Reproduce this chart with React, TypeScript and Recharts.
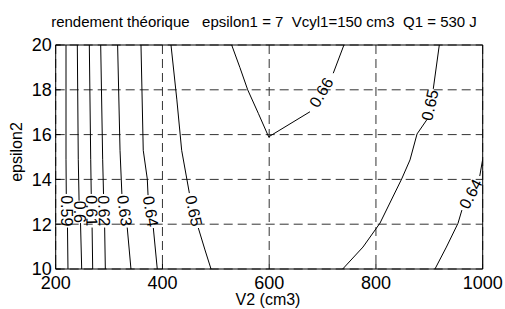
import React from 'react';
import { ScatterChart, Scatter, XAxis, YAxis, CartesianGrid } from 'recharts';

const xTicks = [200, 400, 600, 800, 1000];
const yTicks = [10, 12, 14, 16, 18, 20];

// contour polylines, [V2, epsilon2]
const c059a = [[219.3, 20], [219.3, 14.9], [219.8, 13.35]];
const c059b = [[222.1, 11.85], [223, 10]];
const c060a = [[240.5, 20], [242.3, 14.9], [243.8, 13.05]];
const c060b = [[246.5, 12.05], [248.7, 10]];
const c061a = [[263, 20], [265.6, 14.9], [266.6, 13.35]];
const c061b = [[268.2, 11.85], [269.3, 10]];
const c062a = [[284.3, 20], [288, 14.9], [289.6, 13.35]];
const c062b = [[291.7, 11.85], [293, 10]];
const c063a = [[316, 20], [320.5, 15.3], [324, 13.35]];
const c063b = [[334, 11.85], [341, 10]];
const c064a = [[359.8, 20], [364, 15.3], [371.6, 14.02], [373, 13.3]];
const c064b = [[382.9, 11.83], [390.3, 10]];
const c065La = [[416, 20], [427, 17.55], [436, 15.3], [450.4, 13.39]];
const c065Lb = [[467.2, 11.83], [479.7, 10.85], [491, 10]];
const c066a = [[529.7, 20], [545, 19], [559.7, 18], [579.6, 16.95], [599, 15.9], [676.4, 17.02]];
const c066b = [[720, 18.74], [740, 20]];
const c065Ra = [[918.7, 20], [907.4, 18.04]];
const c065Rb = [[895, 16.65], [877, 16.03], [863.8, 14.87], [848.2, 14.02], [807.6, 12.05], [775.7, 10.98], [737.7, 10]];
const c064Ra = [[1000, 14.9], [994.5, 14.15]];
const c064Rb = [[961, 12.63], [953.7, 12.04], [932, 10.98], [910.6, 10]];

const segments = [c059a, c059b, c060a, c060b, c061a, c061b, c062a, c062b, c063a, c063b, c064a, c064b,
  c065La, c065Lb, c066a, c066b, c065Ra, c065Rb, c064Ra, c064Rb];

// contour labels
const labelText = ['0.59', '0.6', '0.61', '0.62', '0.63', '0.64', '0.65', '0.66', '0.65', '0.64'];
const labelPos = [[221, 12.6], [245.2, 12.55], [267.4, 12.6], [290.6, 12.6], [329, 12.6], [378, 12.57],
  [458.5, 12.6], [697.6, 17.88], [901.2, 17.32], [977.5, 13.35]];
const labelAngle = [90, 90, 89, 88, 82, 81, 78, -59, -78, -62];

const labelData = labelPos.map((p, i) => ({ x: p[0], y: p[1], t: labelText[i], a: labelAngle[i] }));

const FONT = '"Liberation Sans", Arial, sans-serif';

const LabelShape = (props: any) => {
  const { cx, cy, payload } = props;
  return (
    <text x={cx} y={cy} transform={`rotate(${payload.a} ${cx} ${cy})`} textAnchor="middle"
      dominantBaseline="central" fontSize={16} fontFamily={FONT} fill="#000">{payload.t}</text>
  );
};

const Empty = () => <g />;

export default function App() {
  return (
    <div style={{ position: 'absolute', left: 0, top: 0, width: 505, height: 309, background: '#fff' }}>
      <ScatterChart width={505} height={309} margin={{ top: 44, right: 21.3, bottom: 0, left: 0 }}
        style={{ fontFamily: FONT }}>
        <CartesianGrid stroke="#333" strokeDasharray="9 5" strokeWidth={1} />
        <XAxis xAxisId={0} type="number" dataKey="x" domain={[200, 1000]} ticks={xTicks} height={40}
          allowDataOverflow stroke="#000" tickSize={-5} tickMargin={12}
          tick={{ fill: '#000', fontSize: 18, fontFamily: FONT }} />
        <XAxis xAxisId="top" orientation="top" type="number" dataKey="x" domain={[200, 1000]} ticks={xTicks}
          height={1} allowDataOverflow stroke="#000" tickSize={-5} tick={false} />
        <YAxis yAxisId={0} type="number" dataKey="y" domain={[10, 20]} ticks={yTicks} width={55.7}
          allowDataOverflow stroke="#000" tickSize={-5} tickMargin={9}
          tick={{ fill: '#000', fontSize: 18, fontFamily: FONT }} />
        <YAxis yAxisId="right" orientation="right" type="number" dataKey="y" domain={[10, 20]} ticks={yTicks}
          width={1} allowDataOverflow stroke="#000" tickSize={-5} tick={false} />
        {segments.map((s, i) => (
          <Scatter key={i} data={s.map(p => ({ x: p[0], y: p[1] }))} line={{ stroke: '#000', strokeWidth: 1 }}
            lineType="joint" shape={Empty} isAnimationActive={false} />
        ))}
        <Scatter data={labelData} shape={LabelShape} isAnimationActive={false} />
      </ScatterChart>
      <svg width={505} height={309} style={{ position: 'absolute', left: 0, top: 0, pointerEvents: 'none' }}>
        <text x={264} y={27} textAnchor="middle" fontSize={15} fontFamily={FONT} fill="#000"
          style={{ whiteSpace: 'pre' }} xmlSpace="preserve">rendement théorique   epsilon1 = 7  Vcyl1=150 cm3  Q1 = 530 J</text>
        <text x={268} y={305} textAnchor="middle" fontSize={16} fontFamily={FONT} fill="#000">V2 (cm3)</text>
        <text x={22} y={152} textAnchor="middle" fontSize={16} fontFamily={FONT} fill="#000"
          transform="rotate(-90 22 152)">epsilon2</text>
      </svg>
    </div>
  );
}
